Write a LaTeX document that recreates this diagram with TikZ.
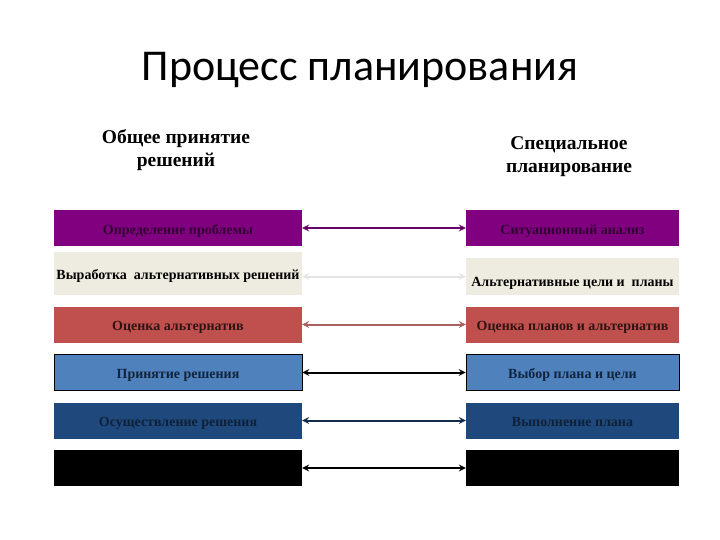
\documentclass[tikz,border=0pt]{standalone}
\usepackage{fontspec}
\setmainfont{Liberation Serif}
\newfontfamily\titlefont{Carlito}
\usetikzlibrary{arrows}
\definecolor{plum}{HTML}{800080}
\definecolor{beige}{HTML}{EEECE1}
\definecolor{brick}{HTML}{C0504D}
\definecolor{steel}{HTML}{4F81BD}
\definecolor{navy}{HTML}{1F497D}
\tikzstyle{stage} = [rectangle,
minimum height=36pt,
inner sep=0pt,
text centered,
text height=12pt, text depth=0pt,
font=\fontsize{14}{16}\selectfont\bfseries]
\tikzstyle{leftstage} = [stage, minimum width=248pt]
\tikzstyle{rightstage} = [stage, minimum width=213pt]
\tikzstyle{head} = [align=center, font=\fontsize{19.5}{23}\selectfont\bfseries]
\tikzstyle{arrow} = [line width=2pt,<->,>=stealth]

\begin{document}
\begin{tikzpicture}[x=1pt,y=-1pt]
\useasboundingbox[fill=white] (0,0) rectangle (720,540);
\node (title) at (360,70) {\titlefont\fontsize{44}{52}\selectfont Процесс планирования};
\node (hl)[head] at (176,150) {Общее принятие\\решений};
\node (hr)[head] at (569,157) {Специальное\\планирование};
% left column
\node (l1)[leftstage, fill=plum, text=plum!40!black] at (178,228) {Определение проблемы};
\node (l2)[leftstage, fill=beige, minimum height=43pt] at (178,273.5) {Выработка\ \ альтернативных решений};
\node (l3)[leftstage, fill=brick, text=brick!25!black] at (178,324.5) {Оценка альтернатив};
\node (l4)[leftstage, fill=steel, draw=black, thick, text=navy!50!black] at (178,372.5) {Принятие решения};
\node (l5)[leftstage, fill=navy, text=navy!45!black] at (178,420.5) {Осуществление решения};
\node (l6)[leftstage, fill=black] at (178,468) {};
% right column
\node (r1)[rightstage, fill=plum, text=plum!40!black] at (572.5,228) {Ситуационный анализ};
\node (r2)[rightstage, fill=beige, minimum height=37pt, text height=20pt, text depth=0pt] at (572.5,276.5) {Альтернативные цели и\ \ планы};
\node (r3)[rightstage, fill=brick, text=brick!25!black] at (572.5,324.5) {Оценка планов и альтернатив};
\node (r4)[rightstage, fill=steel, draw=black, thick, text=navy!50!black] at (572.5,372.5) {Выбор плана и цели};
\node (r5)[rightstage, fill=navy, text=navy!45!black] at (572.5,420.5) {Выполнение плана};
\node (r6)[rightstage, fill=black] at (572.5,468) {};
% links
\draw [arrow, plum!80!black] (l1.east) -- (r1.west);
\draw [arrow, black!10] (l2.east |- r2.west) -- (r2.west);
\draw [arrow, brick!65!gray] (l3.east) -- (r3.west);
\draw [arrow, black] (l4.east) -- (r4.west);
\draw [arrow, navy!60!black] (l5.east) -- (r5.west);
\draw [arrow, black] (l6.east) -- (r6.west);
\end{tikzpicture}
\end{document}
